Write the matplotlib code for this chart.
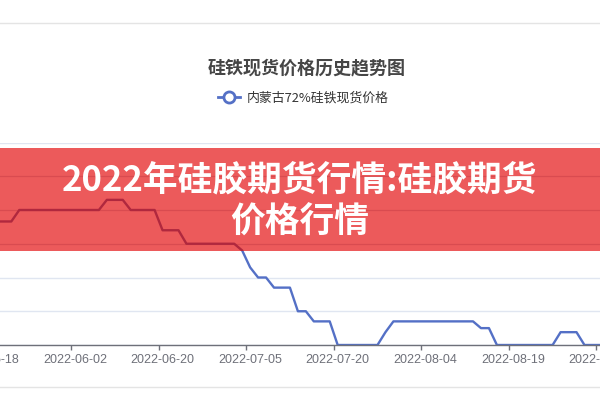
import matplotlib
matplotlib.use("Agg")
import matplotlib.pyplot as plt
from matplotlib.patches import Rectangle
from matplotlib.lines import Line2D

plt.rcParams['font.family'] = ['Noto Sans CJK SC', 'DejaVu Sans']

# ---------------- data ----------------
dates = [
    "2022-05-16", "2022-05-17", "2022-05-18", "2022-05-19", "2022-05-20",
    "2022-05-23", "2022-05-24", "2022-05-25", "2022-05-26", "2022-05-27",
    "2022-05-30", "2022-05-31", "2022-06-01", "2022-06-02",
    "2022-06-06", "2022-06-07", "2022-06-08", "2022-06-09", "2022-06-10",
    "2022-06-13", "2022-06-14", "2022-06-15", "2022-06-16", "2022-06-17",
    "2022-06-20", "2022-06-21", "2022-06-22", "2022-06-23", "2022-06-24",
    "2022-06-27", "2022-06-28", "2022-06-29", "2022-06-30", "2022-07-01",
    "2022-07-04", "2022-07-05", "2022-07-06", "2022-07-07", "2022-07-08",
    "2022-07-11", "2022-07-12", "2022-07-13", "2022-07-14", "2022-07-15",
    "2022-07-18", "2022-07-19", "2022-07-20", "2022-07-21", "2022-07-22",
    "2022-07-25", "2022-07-26", "2022-07-27", "2022-07-28", "2022-07-29",
    "2022-08-01", "2022-08-02", "2022-08-03", "2022-08-04", "2022-08-05",
    "2022-08-08", "2022-08-09", "2022-08-10", "2022-08-11", "2022-08-12",
    "2022-08-15", "2022-08-16", "2022-08-17", "2022-08-18", "2022-08-19",
    "2022-08-22", "2022-08-23", "2022-08-24", "2022-08-25", "2022-08-26",
    "2022-08-29", "2022-08-30", "2022-08-31", "2022-09-01", "2022-09-02",
    "2022-09-05", "2022-09-06", "2022-09-07",
]

prices = [
    8830, 8830, 8830, 8830, 8830, 8830,
    9000, 9000, 9000, 9000, 9000, 9000, 9000, 9000, 9000, 9000, 9000,
    9150, 9150, 9150,
    9000, 9000, 9000, 9000,
    8700, 8700, 8700,
    8500, 8500, 8500, 8500, 8500, 8500, 8500,
    8400, 8150,
    8000, 8000,
    7850, 7850, 7850,
    7500, 7500,
    7350, 7350, 7350,
    7000, 7000, 7000, 7000, 7000, 7000,
    7190,
    7350, 7350, 7350, 7350, 7350, 7350, 7350, 7350, 7350, 7350, 7350,
    7250, 7250,
    7000, 7000, 7000, 7000, 7000, 7000, 7000, 7000,
    7190, 7190, 7190,
    7000, 7000, 7000, 7000, 7000,
]

label_dates = ["2022-05-18", "2022-06-02", "2022-06-20", "2022-07-05",
               "2022-07-20", "2022-08-04", "2022-08-19", "2022-09-05"]
y_ticks = [7000, 7500, 8000, 8500, 9000, 9500, 10000]

title = "硅铁现货价格历史趋势图"
series_name = "内蒙古72%硅铁现货价格"
banner_lines = ["2022年硅胶期货行情:硅胶期货", "价格行情"]

# ---------------- figure ----------------
LINE = '#5470C6'
AXIS = '#6E7079'
GRID = '#E0E6F1'

fig = plt.figure(figsize=(6, 4), dpi=100)
fig.patch.set_facecolor('white')

# the chart is a crop: the plotting area runs past both figure edges
ax = fig.add_axes([-30 / 600, 55 / 400, 660 / 600, 202.5 / 400])
x = list(range(len(dates)))
ax.plot(x, prices, color=LINE, lw=1.7, solid_joinstyle='round',
        solid_capstyle='round', zorder=2)

ax.set_yticks(y_ticks)
ax.tick_params(axis='y', length=0, labelleft=False)
ax.grid(axis='y', color=GRID, lw=1, zorder=0)
ax.set_axisbelow(True)
for s in ['top', 'left', 'right']:
    ax.spines[s].set_visible(False)
ax.spines['bottom'].set_color(AXIS)
ax.spines['bottom'].set_linewidth(1)

lab_idx = [dates.index(d) for d in label_dates]
ax.set_xticks(lab_idx, label_dates)
ax.set_xticks([i - 0.5 for i in lab_idx], minor=True)
ax.tick_params(axis='x', which='major', length=0, pad=6.5,
               labelsize=9, labelcolor=AXIS)
ax.tick_params(axis='x', which='minor', length=3.8, width=1, color=AXIS,
               direction='out')
for t in ax.get_xticklabels():
    t.set_fontfamily(['Liberation Sans', 'DejaVu Sans'])

# limits set after the ticks so they are not widened
ax.set_xlim(-0.19, 82.72)
ax.set_ylim(y_ticks[0], y_ticks[-1])

# banner overlay
yb0 = (345 - 251) / 202.5
yb1 = (345 - 148) / 202.5
banner = Rectangle((0, yb0), 1, yb1 - yb0, transform=ax.transAxes,
                   facecolor='#EC5A5B', edgecolor='none', zorder=3,
                   clip_on=False)
ax.add_patch(banner)
for v in y_ticks:
    gl = ax.axhline(v, color='#D94B50', lw=0.9, zorder=3.5)
    gl.set_clip_path(banner)
under = ax.plot(x, prices, color='#B0283E', lw=1.7,
                solid_joinstyle='round', zorder=4)[0]
under.set_clip_path(banner)

fig.text(0.5, 1 - 180 / 400, banner_lines[0], ha='center', va='center',
         color='white', fontsize=25, fontweight='heavy', zorder=10)
fig.text(0.5, 1 - 222 / 400, banner_lines[1], ha='center', va='center',
         color='white', fontsize=25, fontweight='heavy', zorder=10)

# title and legend
fig.text(307 / 600, 1 - 68 / 400, title, ha='center', va='center',
         fontsize=13, fontweight='bold', color='#464646')
handle = Line2D([], [], color=LINE, lw=2, marker='o', markersize=8,
                markerfacecolor='white', markeredgecolor=LINE,
                markeredgewidth=2)
leg = fig.legend([handle], [series_name], loc='center',
                 bbox_to_anchor=(303 / 600, 1 - 98 / 400), frameon=False,
                 fontsize=9.3, handlelength=1.7, handletextpad=0.5)
for t in leg.get_texts():
    t.set_color('#333333')

# frame lines of the screenshot
fig.add_artist(Line2D([0, 1], [1 - 23 / 400] * 2, transform=fig.transFigure,
                      color='#E4E4E4', lw=1))
fig.add_artist(Line2D([0, 1], [1 - 387 / 400] * 2, transform=fig.transFigure,
                      color='#E4E4E4', lw=1))

fig.savefig('out.png', dpi=100, facecolor='white')
